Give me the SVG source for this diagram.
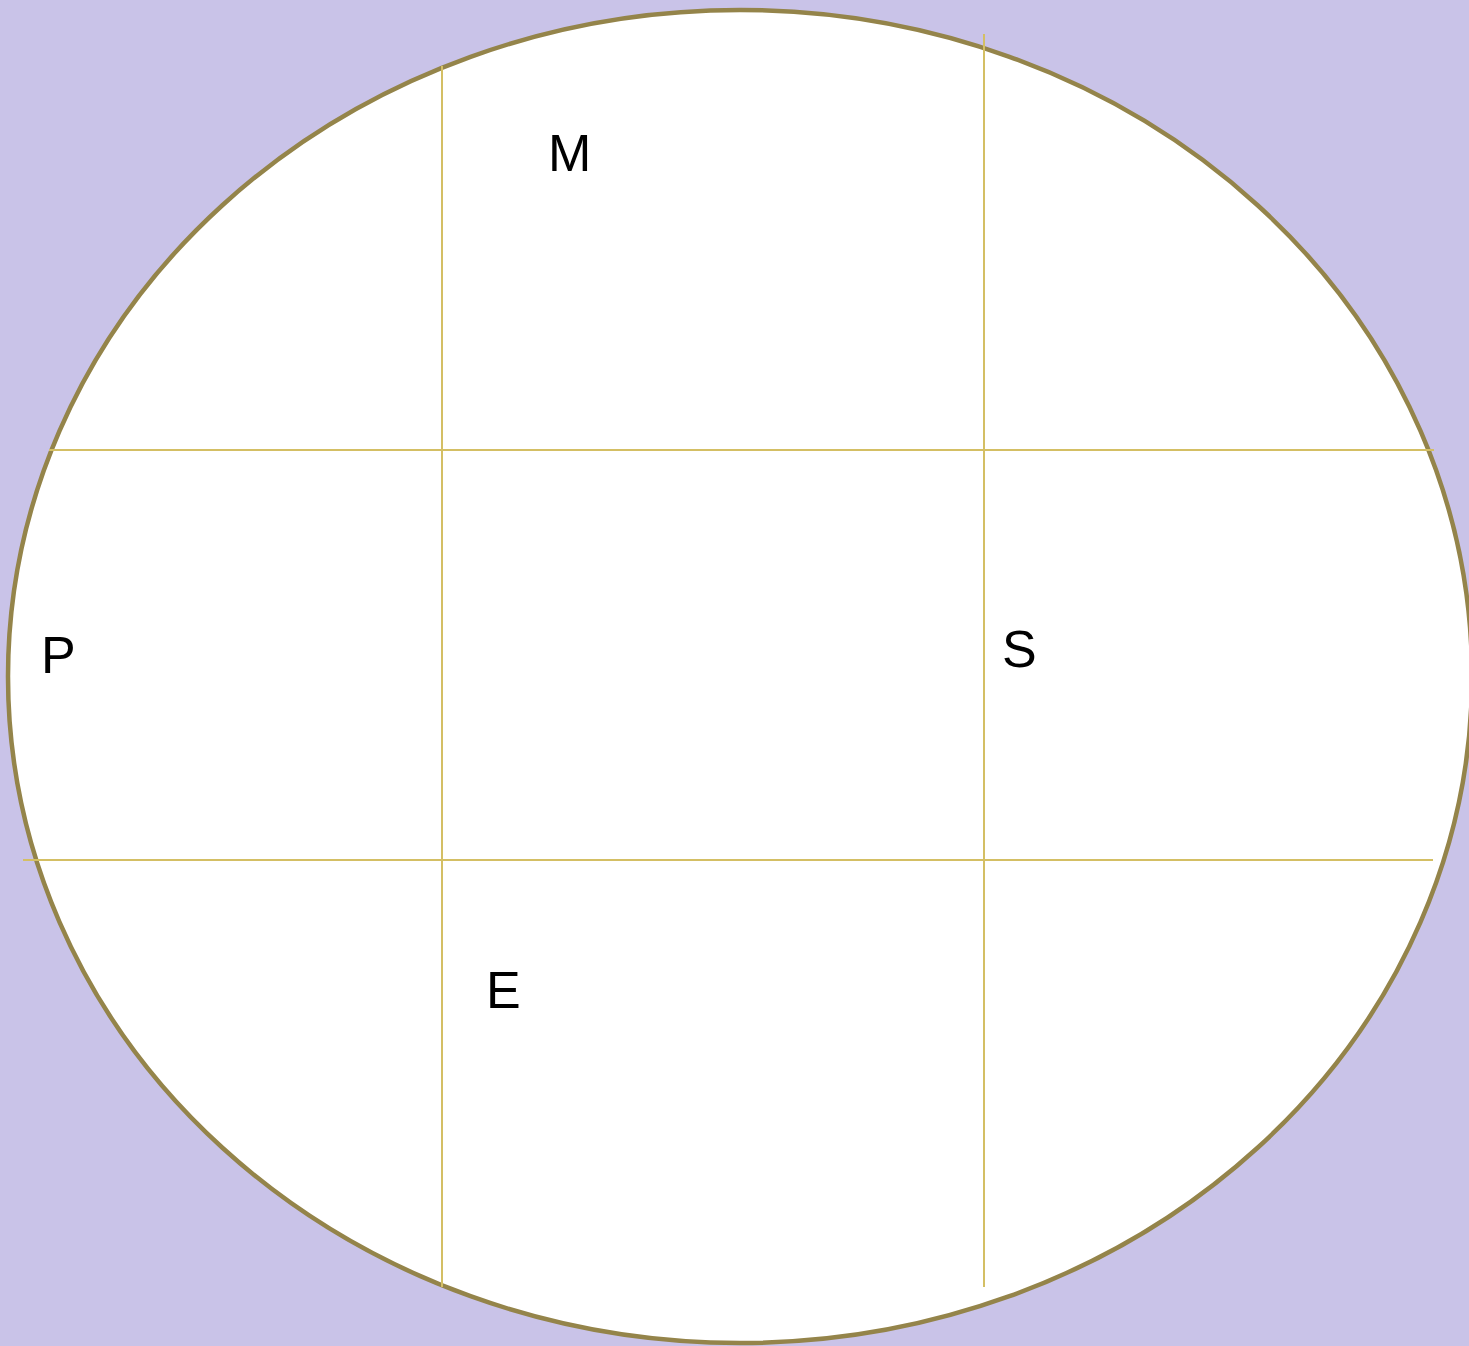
<svg xmlns="http://www.w3.org/2000/svg" width="1469" height="1346" viewBox="0 0 1469 1346">
<style>
.grid{stroke:#d4bf64;stroke-width:2;fill:none}
.lbl{font-family:"Liberation Sans",Arial,sans-serif;font-size:52px;fill:#000}
</style>
<rect width="1469" height="1346" fill="#c9c3e8"/>
<g id="ellipse"><ellipse cx="740" cy="676.5" rx="732" ry="666.5" fill="#ffffff" stroke="#94844a" stroke-width="4.5"/></g>
<g id="connectors">
<line class="grid" x1="442" y1="66" x2="442" y2="1287"/>
<line class="grid" x1="984" y1="34" x2="984" y2="1287"/>
<line class="grid" x1="49" y1="450" x2="1434" y2="450"/>
<line class="grid" x1="23" y1="860" x2="1433" y2="860"/>
</g>
<g id="M"><text class="lbl" x="548" y="171">M</text></g>
<g id="P"><text class="lbl" x="41" y="673">P</text></g>
<g id="S"><text class="lbl" x="1002" y="667">S</text></g>
<g id="E"><text class="lbl" x="486" y="1008">E</text></g>
</svg>
